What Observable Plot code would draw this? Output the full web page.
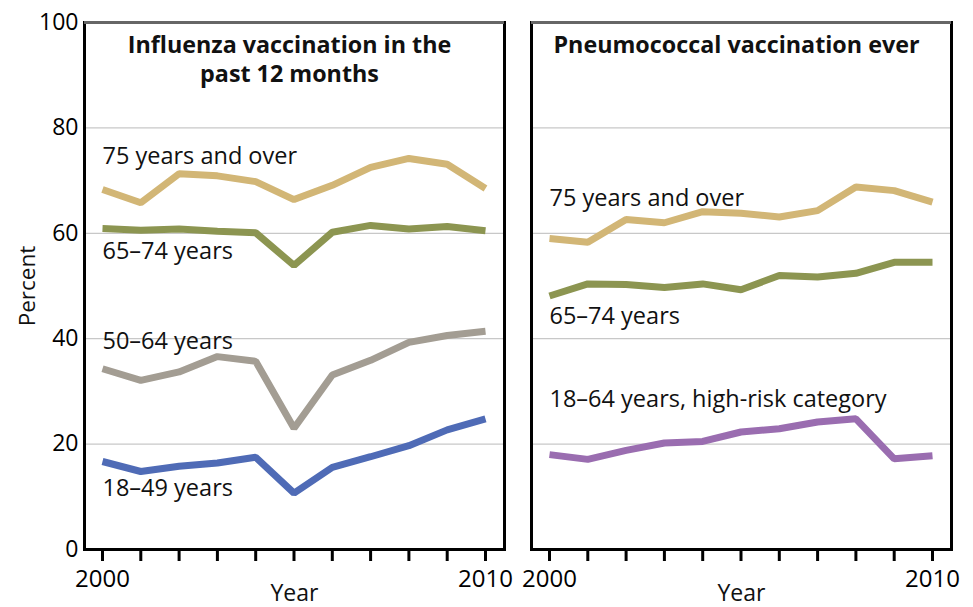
<!DOCTYPE html>
<html>
<head>
<meta charset="utf-8">
<script src="https://cdn.jsdelivr.net/npm/d3@7"></script>
<script src="https://cdn.jsdelivr.net/npm/@observablehq/plot@0.6"></script>
<style>
  html, body { margin: 0; padding: 0; background: #fff; }
  #chart svg { display: block; font-family: "Open Sans", sans-serif; }
</style>
</head>
<body>
<div id="chart"></div>
<script>
// ---- Data ----
const years = [2000, 2001, 2002, 2003, 2004, 2005, 2006, 2007, 2008, 2009, 2010];
const panels = ["Influenza vaccination in the\npast 12 months", "Pneumococcal vaccination ever"];

// Influenza vaccination in the past 12 months
const flu75plus = [68.3, 65.8, 71.3, 70.9, 69.8, 66.4, 69.1, 72.5, 74.2, 73.1, 68.5];
const flu65to74 = [60.9, 60.6, 60.8, 60.4, 60.1, 53.9, 60.2, 61.5, 60.8, 61.3, 60.5];
const flu50to64 = [34.3, 32.1, 33.7, 36.6, 35.7, 23.0, 33.1, 35.9, 39.3, 40.6, 41.4];
const flu18to49 = [16.7, 14.8, 15.8, 16.4, 17.5, 10.7, 15.6, 17.6, 19.7, 22.7, 24.8];

// Pneumococcal vaccination ever
const pneu75plus = [59.0, 58.3, 62.6, 62.0, 64.1, 63.8, 63.1, 64.3, 68.8, 68.1, 65.9];
const pneu65to74 = [48.1, 50.4, 50.3, 49.7, 50.4, 49.3, 52.0, 51.7, 52.4, 54.5, 54.5];
const pneuHighRisk = [18.0, 17.1, 18.8, 20.2, 20.5, 22.3, 22.9, 24.2, 24.8, 17.2, 17.8];

const seriesNames = ["75 years and over", "65–74 years", "50–64 years", "18–49 years", "18–64 years, high-risk category"];
const seriesColors = ["#d2b676", "#8c9551", "#a39d93", "#4f6bb6", "#9a6db0"];

// Series label anchors (year, value) per panel
const labelPanel = [0, 0, 0, 0, 1, 1, 1];
const labelText = ["75 years and over", "65–74 years", "50–64 years", "18–49 years", "75 years and over", "65–74 years", "18–64 years, high-risk category"];
const labelYear = [2000, 2000, 2000, 2000, 2000, 2000, 2000];
const labelValue = [74.5, 56.6, 39.5, 11.5, 66.6, 44.3, 28.5];

const yTicks = [0, 20, 40, 60, 80, 100];
const gridTicks = [20, 40, 60, 80];
const xLabelYears = [2000, 2010];

// ---- Build tidy data ----
function tidy(panel, name, values) {
  return values.map((v, i) => ({panel, series: name, year: years[i], value: v}));
}
const lines = [
  ...tidy(panels[0], seriesNames[0], flu75plus),
  ...tidy(panels[0], seriesNames[1], flu65to74),
  ...tidy(panels[0], seriesNames[2], flu50to64),
  ...tidy(panels[0], seriesNames[3], flu18to49),
  ...tidy(panels[1], seriesNames[0], pneu75plus),
  ...tidy(panels[1], seriesNames[1], pneu65to74),
  ...tidy(panels[1], seriesNames[4], pneuHighRisk)
];
const labels = labelText.map((t, i) => ({panel: panels[labelPanel[i]], text: t, year: labelYear[i], value: labelValue[i]}));
const titles = panels.map(p => ({panel: p, text: p}));

const chart = Plot.plot({
  width: 973,
  height: 607,
  marginLeft: 83,
  marginRight: 21,
  marginTop: 22,
  marginBottom: 58,
  style: {fontFamily: "Open Sans, sans-serif", color: "#000", background: "#fff"},
  fx: {domain: panels, axis: null, paddingInner: 0.06, paddingOuter: 0},
  x: {domain: [2000, 2010], insetLeft: 18, insetRight: 19},
  y: {domain: [0, 100]},
  color: {domain: seriesNames, range: seriesColors},
  marks: [
    Plot.gridY(gridTicks, {stroke: "#c8c8c8", strokeOpacity: 1, strokeWidth: 1.2}),
    Plot.line(lines, {x: "year", y: "value", z: "series", stroke: "series", fx: "panel", strokeWidth: 7, strokeLinejoin: "miter", strokeLinecap: "butt"}),
    Plot.text(labels, {x: "year", y: "value", text: "text", fx: "panel", textAnchor: "start", lineAnchor: "middle", fontSize: 23.5, fill: "#111"}),
    Plot.text(titles, {text: "text", fx: "panel", frameAnchor: "top", textAnchor: "middle", lineAnchor: "top", dy: 10, dx: -5, fontSize: 23.3, fontWeight: "bold", lineHeight: 1.25, fill: "#111"}),
    Plot.frame({stroke: "#000", strokeWidth: 3}),
    Plot.ruleY([100], {stroke: "#666", strokeWidth: 3}),
    Plot.axisY(yTicks, {tickSize: 0, tickPadding: 6, fontSize: 23, label: null}),
    Plot.text([{panel: panels[0]}], {fx: "panel", text: () => "Percent", frameAnchor: "left", textAnchor: "middle", lineAnchor: "middle", dx: -57, rotate: -90, fontSize: 22.5, fill: "#111"}),
    Plot.axisX(years, {tickSize: 12, tickPadding: 8, strokeWidth: 3, fontSize: 24, label: null, tickFormat: d => xLabelYears.includes(d) ? String(d) : ""}),
    Plot.text(titles, {fx: "panel", text: () => "Year", frameAnchor: "bottom", textAnchor: "middle", lineAnchor: "middle", dy: 44, fontSize: 23, fill: "#111"})
  ]
});
document.getElementById("chart").appendChild(chart);
</script>
</body>
</html>
